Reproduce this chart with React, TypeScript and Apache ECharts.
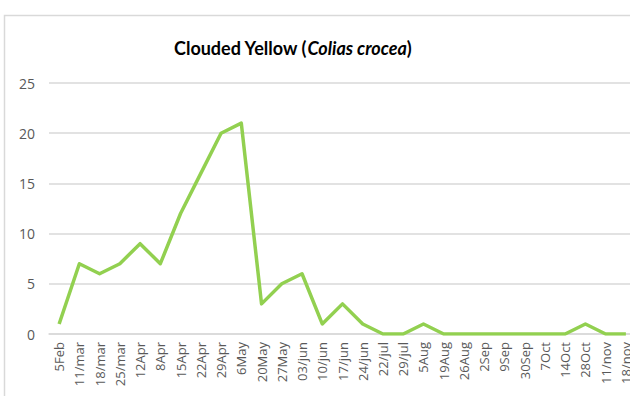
import React, { useEffect, useRef } from "react";
import * as echarts from "echarts";

const categories = ["5Feb", "11/mar", "18/mar", "25/mar", "12Apr", "8Apr", "15Apr", "22Apr", "29Apr", "6May", "20May", "27May", "03/jun", "10/jun", "17/jun", "24/jun", "22/jul", "29/jul", "5Aug", "19Aug", "26Aug", "2Sep", "9Sep", "30Sep", "7Oct", "14Oct", "28Oct", "11/nov", "18/nov"];
const counts = [1, 7, 6, 7, 9, 7, 12, 16, 20, 21, 3, 5, 6, 1, 3, 1, 0, 0, 1, 0, 0, 0, 0, 0, 0, 0, 1, 0, 0];
const yTicks = { min: 0, max: 25, interval: 5 };

export default function App() {
  const ref = useRef<HTMLDivElement>(null);
  useEffect(() => {
    if (!ref.current) return;
    const chart = echarts.init(ref.current, null, { renderer: "svg" });
    chart.setOption({
      animation: false,
      backgroundColor: "#ffffff",
      graphic: [
        {
          type: "rect",
          shape: { x: 4.5, y: 15.5, width: 800, height: 600 },
          style: { fill: "none", stroke: "#d9d9d9", lineWidth: 1.5 },
          silent: true,
        },
      ],
      title: {
        text: "{b|Clouded Yellow (}{i|Colias crocea}{b|)}",
        left: 169,
        top: 34,
        textStyle: {
          rich: {
            b: { fontFamily: "Lato", fontWeight: "bold", fontSize: 18, color: "#000000" },
            i: { fontFamily: "Lato", fontWeight: "bold", fontStyle: "italic", fontSize: 18, color: "#000000" },
          },
        },
      },
      grid: { left: 49, right: 0, top: 83, bottom: 62, containLabel: false },
      xAxis: {
        type: "category",
        data: categories,
        boundaryGap: true,
        axisLine: { show: true, lineStyle: { color: "#d9d9d9", width: 1.5 } },
        axisTick: { show: false },
        axisLabel: {
          interval: 0,
          rotate: 90,
          margin: 8,
          fontFamily: "Open Sans",
          fontSize: 13,
          color: "#595959",
        },
      },
      yAxis: {
        type: "value",
        min: yTicks.min,
        max: yTicks.max,
        interval: yTicks.interval,
        axisLine: { show: false },
        axisTick: { show: false },
        splitLine: { lineStyle: { color: "#d9d9d9", width: 1.5 } },
        axisLabel: { margin: 14, fontFamily: "Open Sans", fontSize: 14, color: "#595959" },
      },
      series: [
        {
          type: "line",
          data: counts,
          symbol: "none",
          lineStyle: { color: "#92d050", width: 3.5, join: "round" },
        },
      ],
    });
    return () => chart.dispose();
  }, []);
  return (
    <div style={{ position: "fixed", left: 0, top: 0, width: 630, height: 396, overflow: "hidden" }}>
      <div ref={ref} style={{ position: "absolute", left: 0, top: 0, width: 636, height: 396 }} />
    </div>
  );
}
